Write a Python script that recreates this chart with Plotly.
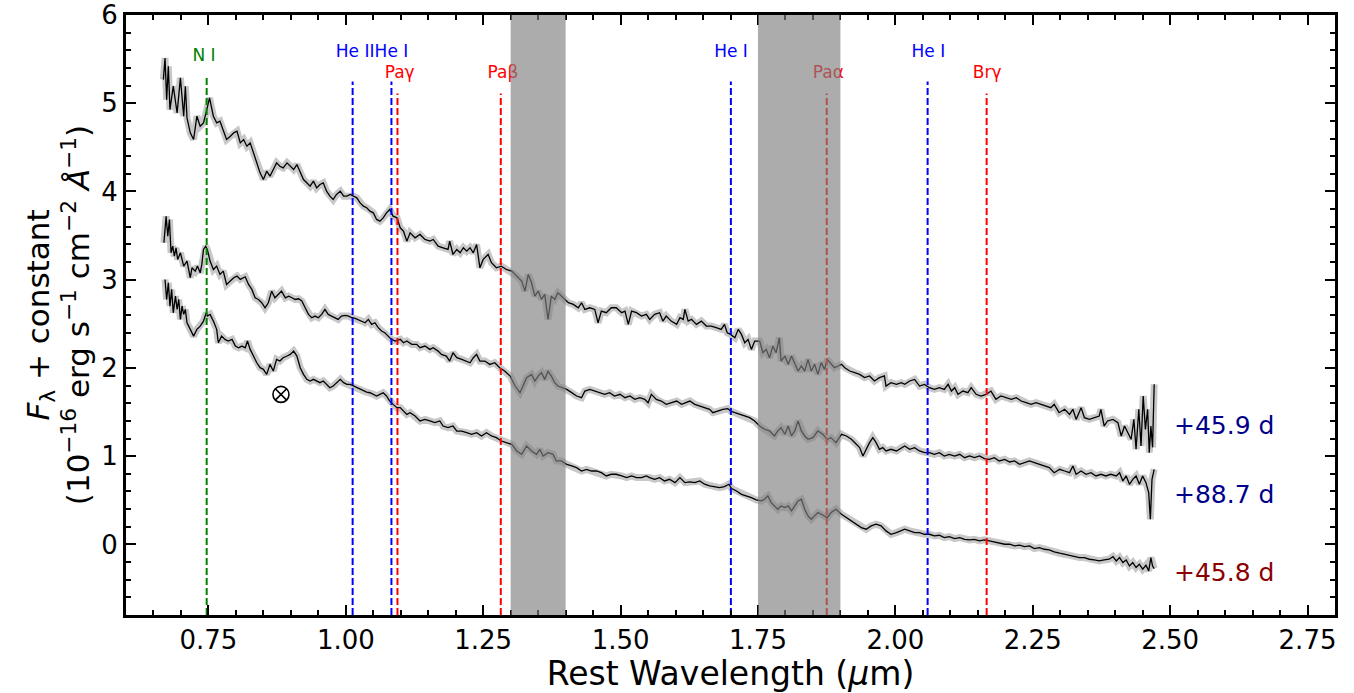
import plotly.graph_objects as go

# ---------------- data ----------------
# +45.9 d (top spectrum)
wl_a = [0.668, 0.671, 0.674, 0.677, 0.680, 0.686, 0.693, 0.699, 0.705, 0.708,
        0.711, 0.717, 0.723, 0.729, 0.735, 0.741, 0.747, 0.752, 0.759, 0.765,
        0.771, 0.777, 0.783, 0.790, 0.796, 0.802, 0.808, 0.814, 0.820, 0.826,
        0.832, 0.838, 0.844, 0.850, 0.856, 0.862, 0.868, 0.874, 0.880, 0.886,
        0.893, 0.899, 0.905, 0.911, 0.917, 0.923, 0.929, 0.935, 0.941, 0.947,
        0.953, 0.959, 0.965, 0.971, 0.977, 0.983, 0.990, 0.996, 1.002, 1.008,
        1.014, 1.020, 1.026, 1.032, 1.038, 1.044, 1.050, 1.056, 1.062, 1.068,
        1.074, 1.080, 1.086, 1.093,
        1.099, 1.105, 1.111, 1.117, 1.126, 1.135, 1.144, 1.153, 1.159, 1.168,
        1.177, 1.186, 1.189, 1.195, 1.202, 1.208, 1.214, 1.220, 1.226, 1.232,
        1.238, 1.244, 1.250, 1.256, 1.259, 1.265, 1.274, 1.283, 1.292, 1.302,
        1.311, 1.320, 1.326, 1.332, 1.338, 1.344, 1.350, 1.356, 1.362, 1.368,
        1.374, 1.380, 1.386, 1.392, 1.398, 1.405, 1.414, 1.423, 1.429, 1.435,
        1.444, 1.453, 1.459, 1.465, 1.474, 1.483, 1.492, 1.502, 1.508, 1.514,
        1.520, 1.529, 1.538, 1.547,
        1.553, 1.562, 1.571, 1.577, 1.583, 1.592, 1.602, 1.608, 1.614, 1.617,
        1.623, 1.629, 1.638, 1.647, 1.656, 1.665, 1.674, 1.683, 1.689, 1.694,
        1.700, 1.708, 1.714, 1.720, 1.726, 1.732, 1.738, 1.744, 1.753, 1.759,
        1.765, 1.771, 1.777, 1.783, 1.789, 1.792, 1.799, 1.805, 1.811, 1.817,
        1.823, 1.829, 1.835, 1.841, 1.847, 1.853, 1.859, 1.865, 1.871, 1.876,
        1.883, 1.889, 1.896, 1.902, 1.908, 1.917, 1.926, 1.935, 1.944, 1.953,
        1.962, 1.971, 1.980, 1.983, 1.992, 2.002, 2.011,
        2.017, 2.026, 2.035, 2.044, 2.053, 2.062, 2.071, 2.080, 2.089, 2.096,
        2.102, 2.108, 2.114, 2.123, 2.132, 2.138, 2.147, 2.156, 2.165, 2.174,
        2.183, 2.192, 2.202, 2.211, 2.220, 2.229, 2.238, 2.247, 2.256, 2.265,
        2.274, 2.283, 2.289, 2.298, 2.308, 2.317, 2.323, 2.329, 2.338, 2.344,
        2.353, 2.362, 2.371, 2.374, 2.380, 2.386, 2.396, 2.405, 2.411, 2.417,
        2.423, 2.429, 2.434, 2.438, 2.443, 2.447, 2.451, 2.455, 2.459, 2.462,
        2.465, 2.468, 2.471]
flux_a = [5.268, 5.513, 5.041, 5.419, 4.928, 5.193, 4.890, 5.287, 4.853, 5.193,
          4.834, 4.664, 4.589, 4.853, 4.740, 4.777, 4.928, 5.060, 4.853, 4.777,
          4.796, 4.702, 4.589, 4.626, 4.664, 4.683, 4.551, 4.589, 4.513, 4.551,
          4.437, 4.324, 4.211, 4.135, 4.230, 4.173, 4.249, 4.324, 4.286, 4.268,
          4.324, 4.286, 4.249, 4.305, 4.211, 4.135, 4.098, 4.060, 4.117, 4.041,
          4.079, 4.098, 4.003, 3.947, 3.909, 3.966, 4.003, 3.947, 3.947, 3.966,
          3.947, 3.928, 3.871, 3.834, 3.815, 3.777, 3.758, 3.683, 3.664, 3.701,
          3.758, 3.796, 3.720, 3.701,
          3.588, 3.550, 3.437, 3.531, 3.475, 3.513, 3.456, 3.437, 3.456, 3.381,
          3.362, 3.343, 3.437, 3.286, 3.343, 3.305, 3.362, 3.324, 3.362, 3.305,
          3.399, 3.135, 3.230, 3.267, 3.286, 3.192, 3.135, 3.154, 3.116, 3.097,
          3.041, 2.984, 2.871, 3.060, 2.965, 2.814, 2.871, 2.777, 2.833, 2.550,
          2.814, 2.777, 2.852, 2.814, 2.777, 2.739, 2.720, 2.682, 2.739, 2.663,
          2.682, 2.663, 2.512, 2.644, 2.626, 2.682, 2.682, 2.626, 2.644, 2.493,
          2.644, 2.626, 2.588, 2.607,
          2.550, 2.607, 2.626, 2.531, 2.588, 2.531, 2.494, 2.569, 2.550, 2.663,
          2.531, 2.550, 2.494, 2.531, 2.475, 2.475, 2.456, 2.437, 2.494, 2.399,
          2.380, 2.343, 2.437, 2.380, 2.286, 2.324, 2.210, 2.305, 2.305, 2.173,
          2.210, 2.116, 2.248, 2.173, 2.343, 2.078, 2.135, 2.041, 2.135, 2.041,
          1.965, 2.022, 1.965, 2.097, 1.965, 2.041, 1.927, 2.060, 1.984, 2.097,
          2.041, 2.003, 2.022, 2.041, 2.003, 1.965, 1.946, 1.927, 1.890, 1.909,
          1.852, 1.890, 1.909, 1.795, 1.833, 1.814, 1.833,
          1.814, 1.852, 1.870, 1.795, 1.814, 1.776, 1.757, 1.776, 1.757, 1.814,
          1.738, 1.776, 1.701, 1.738, 1.720, 1.776, 1.701, 1.682, 1.701, 1.738,
          1.644, 1.682, 1.663, 1.644, 1.663, 1.625, 1.606, 1.587, 1.606, 1.587,
          1.568, 1.550, 1.587, 1.493, 1.531, 1.474, 1.531, 1.417, 1.550, 1.436,
          1.417, 1.436, 1.455, 1.531, 1.342, 1.399, 1.417, 1.380, 1.229, 1.342,
          1.266, 1.191, 1.417, 1.078, 1.531, 1.116, 1.682, 1.304, 1.531, 1.040,
          1.342, 1.100, 1.814]

# +88.7 d (middle spectrum)
wl_b = [0.669, 0.673, 0.676, 0.679, 0.682, 0.685, 0.688, 0.691, 0.694, 0.699,
        0.705, 0.711, 0.717, 0.720, 0.726, 0.730, 0.735, 0.738, 0.741, 0.745,
        0.748, 0.753, 0.759, 0.765, 0.771, 0.777, 0.783, 0.790, 0.796, 0.802,
        0.808, 0.817, 0.823, 0.829, 0.835, 0.841, 0.847, 0.853, 0.859, 0.865,
        0.871, 0.877, 0.883, 0.890, 0.896, 0.902, 0.908, 0.914, 0.920, 0.926,
        0.932, 0.938, 0.944, 0.950, 0.956, 0.962, 0.968, 0.974, 0.980, 0.986,
        0.992, 0.999, 1.005, 1.011, 1.017, 1.023, 1.029, 1.035, 1.041, 1.047,
        1.053, 1.059, 1.065, 1.071, 1.077, 1.083, 1.090,
        1.099, 1.105, 1.111, 1.120, 1.129, 1.135, 1.144, 1.153, 1.159, 1.168,
        1.174, 1.183, 1.189, 1.195, 1.202, 1.211, 1.220, 1.226, 1.232, 1.238,
        1.244, 1.253, 1.262, 1.271, 1.280, 1.289, 1.299, 1.308, 1.317, 1.323,
        1.329, 1.338, 1.344, 1.350, 1.356, 1.362, 1.368, 1.374, 1.380, 1.386,
        1.395, 1.402, 1.411, 1.420, 1.429, 1.435, 1.444, 1.453, 1.462, 1.471,
        1.480, 1.489, 1.499, 1.508, 1.517, 1.526, 1.535, 1.544,
        1.550, 1.556, 1.565, 1.574, 1.583, 1.592, 1.602, 1.611, 1.620, 1.626,
        1.635, 1.644, 1.653, 1.662, 1.668, 1.677, 1.686, 1.695, 1.700, 1.708,
        1.717, 1.726, 1.735, 1.744, 1.753, 1.762, 1.771, 1.780, 1.786, 1.792,
        1.799, 1.805, 1.811, 1.817, 1.823, 1.829, 1.835, 1.841, 1.850, 1.859,
        1.868, 1.876, 1.883, 1.892, 1.902, 1.911, 1.920, 1.929, 1.935, 1.941,
        1.947, 1.953, 1.959, 1.965, 1.971, 1.977, 1.983, 1.992, 2.002, 2.011,
        2.017, 2.026, 2.035, 2.044, 2.053, 2.062, 2.071, 2.080, 2.089, 2.098,
        2.108, 2.117, 2.126, 2.135, 2.144, 2.153, 2.162, 2.171, 2.180, 2.189,
        2.199, 2.208, 2.217, 2.226, 2.235, 2.244, 2.253, 2.262, 2.271, 2.280,
        2.289, 2.299, 2.308, 2.317, 2.323, 2.329, 2.338, 2.347, 2.356, 2.365,
        2.374, 2.383, 2.392, 2.402, 2.408, 2.414, 2.420, 2.426, 2.432, 2.438,
        2.444, 2.450, 2.456, 2.461, 2.464, 2.467, 2.471]
flux_b = [3.418, 3.720, 3.494, 3.682, 3.305, 3.380, 3.267, 3.362, 3.229, 3.305,
          3.154, 3.211, 3.022, 3.135, 3.097, 3.154, 3.078, 3.173, 3.343, 3.380,
          3.343, 3.211, 3.116, 3.154, 3.060, 3.097, 2.946, 2.984, 3.022, 3.041,
          3.003, 3.033, 2.946, 2.890, 2.795, 2.776, 2.739, 2.682, 2.739, 2.871,
          2.795, 2.833, 2.871, 2.795, 2.814, 2.795, 2.776, 2.784, 2.758, 2.682,
          2.607, 2.569, 2.588, 2.569, 2.607, 2.663, 2.607, 2.588, 2.569, 2.550,
          2.588, 2.595, 2.588, 2.569, 2.561, 2.542, 2.531, 2.512, 2.550, 2.493,
          2.512, 2.456, 2.418, 2.399, 2.361, 2.323, 2.305,
          2.324, 2.286, 2.305, 2.267, 2.267, 2.229, 2.248, 2.210, 2.229, 2.191,
          2.154, 2.135, 2.078, 2.172, 2.116, 2.097, 2.078, 2.059, 2.116, 2.154,
          2.078, 2.078, 2.040, 2.059, 2.003, 1.965, 1.908, 1.795, 1.720, 1.795,
          1.889, 1.927, 1.852, 1.908, 1.946, 1.870, 1.965, 1.908, 1.833, 1.795,
          1.776, 1.757, 1.720, 1.682, 1.663, 1.738, 1.757, 1.738, 1.720, 1.701,
          1.720, 1.682, 1.701, 1.663, 1.682, 1.644, 1.663, 1.644,
          1.606, 1.701, 1.644, 1.625, 1.588, 1.606, 1.625, 1.588, 1.606, 1.625,
          1.588, 1.569, 1.550, 1.531, 1.493, 1.512, 1.531, 1.539, 1.512, 1.493,
          1.474, 1.455, 1.437, 1.399, 1.342, 1.305, 1.286, 1.229, 1.286, 1.323,
          1.248, 1.342, 1.229, 1.286, 1.399, 1.286, 1.229, 1.191, 1.210, 1.286,
          1.248, 1.191, 1.210, 1.153, 1.248, 1.229, 1.191, 1.135, 1.097, 1.002,
          1.078, 1.153, 1.210, 1.153, 1.078, 1.097, 1.059, 1.078, 1.059, 1.097,
          1.116, 1.078, 1.097, 1.059, 1.040, 1.040, 1.021, 1.040, 1.002, 1.021,
          1.002, 1.021, 0.983, 1.002, 0.983, 1.002, 0.972, 0.964, 0.983, 0.946,
          0.964, 0.934, 0.946, 0.908, 0.927, 0.946, 0.927, 0.908, 0.889, 0.870,
          0.813, 0.851, 0.832, 0.813, 0.889, 0.795, 0.832, 0.795, 0.813, 0.776,
          0.795, 0.776, 0.795, 0.776, 0.813, 0.719, 0.776, 0.681, 0.738, 0.776,
          0.681, 0.776, 0.700, 0.587, 0.285, 0.738, 0.851]

# +45.8 d (bottom spectrum)
wl_c = [0.671, 0.674, 0.677, 0.680, 0.683, 0.686, 0.690, 0.693, 0.696, 0.699,
        0.702, 0.705, 0.708, 0.711, 0.717, 0.723, 0.729, 0.735, 0.741, 0.746,
        0.748, 0.753, 0.759, 0.765, 0.768, 0.774, 0.780, 0.786, 0.793, 0.799,
        0.805, 0.811, 0.817, 0.821, 0.826, 0.832, 0.838, 0.844, 0.850, 0.856,
        0.862, 0.868, 0.874, 0.880, 0.886, 0.893, 0.899, 0.905, 0.911, 0.917,
        0.923, 0.929, 0.935, 0.941, 0.947, 0.953, 0.959, 0.965, 0.971, 0.977,
        0.983, 0.990, 0.996, 1.002, 1.008, 1.014, 1.020, 1.026, 1.032, 1.038,
        1.044, 1.050, 1.056, 1.062, 1.068, 1.074, 1.080, 1.086, 1.093,
        1.099, 1.105, 1.111, 1.117, 1.126, 1.135, 1.144, 1.153, 1.162, 1.171,
        1.177, 1.186, 1.195, 1.202, 1.211, 1.220, 1.229, 1.238, 1.247, 1.256,
        1.265, 1.274, 1.283, 1.292, 1.302, 1.311, 1.320, 1.329, 1.338, 1.347,
        1.353, 1.359, 1.368, 1.377, 1.383, 1.392, 1.402, 1.411, 1.420, 1.429,
        1.438, 1.447, 1.456, 1.465, 1.474, 1.483, 1.492, 1.502, 1.511, 1.520,
        1.529, 1.538, 1.547,
        1.553, 1.562, 1.571, 1.580, 1.589, 1.599, 1.608, 1.617, 1.626, 1.635,
        1.644, 1.653, 1.662, 1.671, 1.680, 1.689, 1.697, 1.702, 1.711, 1.720,
        1.729, 1.738, 1.747, 1.756, 1.762, 1.768, 1.774, 1.780, 1.786, 1.792,
        1.799, 1.805, 1.811, 1.817, 1.823, 1.829, 1.835, 1.841, 1.847, 1.853,
        1.859, 1.865, 1.871, 1.876, 1.883, 1.892, 1.902, 1.911, 1.920, 1.929,
        1.938, 1.947, 1.956, 1.965, 1.974, 1.983, 1.992, 2.002, 2.011,
        2.017, 2.026, 2.035, 2.044, 2.053, 2.062, 2.071, 2.080, 2.089, 2.098,
        2.108, 2.117, 2.126, 2.135, 2.144, 2.153, 2.162, 2.171, 2.180, 2.189,
        2.199, 2.208, 2.217, 2.226, 2.235, 2.244, 2.253, 2.262, 2.271, 2.280,
        2.289, 2.299, 2.308, 2.317, 2.326, 2.335, 2.344, 2.353, 2.362, 2.371,
        2.380, 2.389, 2.396, 2.402, 2.408, 2.414, 2.420, 2.426, 2.432, 2.438,
        2.444, 2.450, 2.456, 2.461, 2.465, 2.468, 2.471]
flux_c = [3.003, 2.776, 2.965, 2.701, 2.890, 2.625, 2.814, 2.663, 2.776, 2.550,
          2.701, 2.607, 2.663, 2.512, 2.437, 2.361, 2.437, 2.474, 2.531, 2.625,
          2.588, 2.607, 2.531, 2.437, 2.286, 2.361, 2.323, 2.305, 2.323, 2.248,
          2.229, 2.248, 2.229, 2.305, 2.210, 2.135, 2.059, 2.003, 1.984, 1.927,
          2.040, 1.965, 2.097, 2.078, 2.116, 2.135, 2.154, 2.191, 2.135, 2.003,
          1.927, 1.871, 1.852, 1.871, 1.852, 1.833, 1.852, 1.814, 1.776, 1.795,
          1.833, 1.871, 1.833, 1.814, 1.814, 1.795, 1.776, 1.757, 1.738, 1.727,
          1.719, 1.701, 1.682, 1.701, 1.719, 1.682, 1.625, 1.587, 1.550,
          1.550, 1.512, 1.474, 1.493, 1.455, 1.399, 1.417, 1.399, 1.380, 1.399,
          1.342, 1.323, 1.342, 1.285, 1.285, 1.266, 1.248, 1.266, 1.229, 1.266,
          1.229, 1.210, 1.172, 1.153, 1.134, 1.059, 1.021, 1.115, 1.059, 1.021,
          1.078, 1.002, 1.040, 1.021, 0.946, 0.946, 0.908, 0.889, 0.870, 0.832,
          0.851, 0.832, 0.832, 0.813, 0.776, 0.795, 0.795, 0.776, 0.757, 0.776,
          0.757, 0.757, 0.776,
          0.757, 0.738, 0.757, 0.719, 0.738, 0.700, 0.757, 0.700, 0.708, 0.700,
          0.719, 0.682, 0.663, 0.655, 0.644, 0.655, 0.682, 0.633, 0.606, 0.568,
          0.550, 0.531, 0.504, 0.493, 0.512, 0.550, 0.474, 0.436, 0.399, 0.436,
          0.417, 0.436, 0.380, 0.436, 0.493, 0.512, 0.399, 0.323, 0.285, 0.323,
          0.361, 0.342, 0.323, 0.304, 0.361, 0.399, 0.342, 0.304, 0.266, 0.229,
          0.191, 0.172, 0.210, 0.229, 0.210, 0.153, 0.115, 0.134, 0.153,
          0.172, 0.153, 0.134, 0.134, 0.115, 0.115, 0.096, 0.104, 0.077, 0.089,
          0.066, 0.077, 0.058, 0.051, 0.058, 0.040, 0.051, 0.040, 0.028, 0.013,
          0.002, 0.002, -0.017, -0.009, -0.025, -0.017, -0.047, -0.036, -0.055, -0.062,
          -0.085, -0.100, -0.111, -0.130, -0.138, -0.149, -0.149, -0.168, -0.176, -0.187,
          -0.176, -0.168, -0.138, -0.187, -0.149, -0.206, -0.176, -0.244, -0.206, -0.262,
          -0.225, -0.281, -0.236, -0.300, -0.149, -0.244, -0.274]

spectra_labels = ["+45.9 d", "+88.7 d", "+45.8 d"]
spectra_label_y = [1.35, 0.57, -0.32]
spectra_label_colors = ["#00008b", "#00008b", "#8b0000"]

# line identifications
line_names = ["N I", "He II", "He I", "Pa\u03b3", "Pa\u03b2", "He I", "Pa\u03b1", "He I", "Br\u03b3"]
line_wl = [0.7468, 1.0124, 1.083, 1.094, 1.282, 1.7007, 1.8751, 2.0587, 2.1661]
line_top = [5.31, 5.245, 5.245, 5.11, 5.11, 5.245, 5.11, 5.245, 5.11]
label_y = [5.53, 5.57, 5.57, 5.33, 5.33, 5.57, 5.33, 5.57, 5.33]
label_x = [0.742, 1.017, 1.083, 1.098, 1.286, 1.701, 1.878, 2.060, 2.167]
line_colors = ["#008000", "#0000ff", "#0000ff", "#ff0000", "#ff0000",
               "#0000ff", "#ff0000", "#0000ff", "#ff0000"]

# telluric bands
telluric = [(1.30, 1.40), (1.75, 1.90)]

# host/artefact marker
otimes_x = [0.882]
otimes_y = [1.70]

X_RANGE = [0.6, 2.8]
Y_RANGE = [-0.8, 6.0]

assert len(wl_a) == len(flux_a)
assert len(wl_b) == len(flux_b)
assert len(wl_c) == len(flux_c)

FONT = "DejaVu Sans"
fig = go.Figure()

for wl, fl in [(wl_a, flux_a), (wl_b, flux_b), (wl_c, flux_c)]:
    fig.add_trace(go.Scatter(x=wl, y=fl, mode="lines",
                             line=dict(color="#c8c8c8", width=7),
                             hoverinfo="skip", showlegend=False))
for wl, fl in [(wl_a, flux_a), (wl_b, flux_b), (wl_c, flux_c)]:
    fig.add_trace(go.Scatter(x=wl, y=fl, mode="lines",
                             line=dict(color="black", width=1.3),
                             showlegend=False))

for w, top, c in zip(line_wl, line_top, line_colors):
    fig.add_trace(go.Scatter(x=[w, w], y=[Y_RANGE[0], top], mode="lines",
                             line=dict(color=c, width=2, dash="7px,3px"),
                             hoverinfo="skip", showlegend=False))

fig.add_trace(go.Scatter(x=label_x, y=label_y, mode="text", text=line_names,
                         textposition="middle center",
                         textfont=dict(family=FONT, size=17, color=line_colors),
                         hoverinfo="skip", showlegend=False))

fig.add_trace(go.Scatter(x=otimes_x, y=otimes_y, mode="markers",
                         marker=dict(symbol="circle-x-open", size=16, color="black",
                                     line=dict(width=1.6, color="black")),
                         hoverinfo="skip", showlegend=False))

for x0, x1 in telluric:
    fig.add_shape(type="rect", xref="x", yref="paper", x0=x0, x1=x1, y0=0, y1=1,
                  fillcolor="rgba(128,128,128,0.65)", line=dict(width=0), layer="above")

for t, y, c in zip(spectra_labels, spectra_label_y, spectra_label_colors):
    fig.add_annotation(x=2.503, y=y, text=t, showarrow=False, xanchor="left",
                       yanchor="middle", font=dict(family=FONT, size=25, color=c))

axis_common = dict(showline=True, linewidth=3, linecolor="black", mirror="ticks",
                   ticks="inside", ticklen=10, tickwidth=2, tickcolor="black",
                   showgrid=False, zeroline=False, automargin=False,
                   ticklabeloverflow="allow",
                   tickfont=dict(family=FONT, size=26, color="black"))

fig.update_xaxes(range=X_RANGE, tick0=0.75, dtick=0.25, tickformat=".2f",
                 minor=dict(dtick=0.05, ticklen=5, tickwidth=1.5, tickcolor="black", ticks="inside"),
                 title=dict(text="Rest Wavelength (<i>\u03bc</i>m)",
                            font=dict(family=FONT, size=33, color="black"), standoff=9),
                 **axis_common)
fig.update_yaxes(range=Y_RANGE, tick0=0, dtick=1,
                 minor=dict(dtick=0.2, ticklen=5, tickwidth=1.5, tickcolor="black", ticks="inside"),
                 title=dict(text="<i>F</i><sub>\u03bb</sub> + constant<br>(10<sup>\u221216</sup> erg s<sup>\u22121</sup> cm<sup>\u22122</sup> <i>\u00c5</i><sup>\u22121</sup>)",
                            font=dict(family=FONT, size=31, color="black"), standoff=3),
                 **axis_common)

fig.update_layout(width=1354, height=693,
                  margin=dict(l=126, r=19, t=15, b=78),
                  paper_bgcolor="white", plot_bgcolor="white",
                  font=dict(family=FONT, color="black"))

fig.write_html("out.html")
